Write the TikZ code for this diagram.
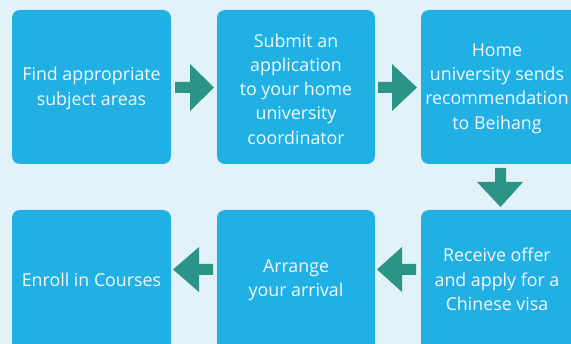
\documentclass[tikz,border=0pt]{standalone}
\usepackage{fontspec}
\setmainfont{Open Sans}
\definecolor{bgc}{HTML}{E1F2FA}
\definecolor{boxc}{HTML}{21B0E3}
\definecolor{arrc}{HTML}{2C9487}
\definecolor{txtc}{HTML}{F2F9FD}
\tikzset{
  stepbox/.style={fill=boxc, rounded corners=8pt, draw=none},
  steptext/.style={text=txtc, align=center, font=\fontsize{17.8}{24.3}\selectfont, inner sep=0pt},
  blockarrow/.style={fill=arrc, draw=none},
}
\begin{document}
\begin{tikzpicture}[x=1pt,y=-1pt]
\fill[bgc] (0,0) rectangle (571,344);
\useasboundingbox (0,0) rectangle (571,344);
% boxes
\fill[stepbox] (12,10) rectangle (171,164);
\fill[stepbox] (217,10) rectangle (375,164);
\fill[stepbox] (421,10) rectangle (580,164);
\fill[stepbox] (421,210) rectangle (580,364);
\fill[stepbox] (217,210) rectangle (375,364);
\fill[stepbox] (12,210) rectangle (171,364);
% texts
\node[steptext] (t1) at (91.5,88.5) {Find appropriate\\subject areas};
\node[steptext] (t2) at (296,89) {Submit an\\application\\to your home\\university\\coordinator};
\node[steptext] (t3) at (497,88.5) {Home\\university sends\\recommendation\\to Beihang};
\node[steptext] (t4) at (497,279.5) {Receive offer\\and apply for a\\Chinese visa};
\node[steptext] (t5) at (296,280.5) {Arrange\\your arrival};
\node[steptext] (t6) at (91.5,280) {Enroll in Courses};
% arrows
\fill[blockarrow] (175,82) -- (190,82) -- (190,64) -- (214,87.5) -- (190,111) -- (190,93) -- (175,93) -- cycle;
\fill[blockarrow] (378,82) -- (392,82) -- (392,64) -- (417,87.5) -- (392,111) -- (392,93) -- (378,93) -- cycle;
\fill[blockarrow] (495,168) -- (506,168) -- (506,182) -- (523,182) -- (500.5,207) -- (477,182) -- (495,182) -- cycle;
\fill[blockarrow] (416,264) -- (402,264) -- (402,247) -- (377,269.5) -- (402,292) -- (402,275) -- (416,275) -- cycle;
\fill[blockarrow] (213,264) -- (199,264) -- (199,247) -- (173,269.5) -- (199,292) -- (199,275) -- (213,275) -- cycle;
\end{tikzpicture}
\end{document}
